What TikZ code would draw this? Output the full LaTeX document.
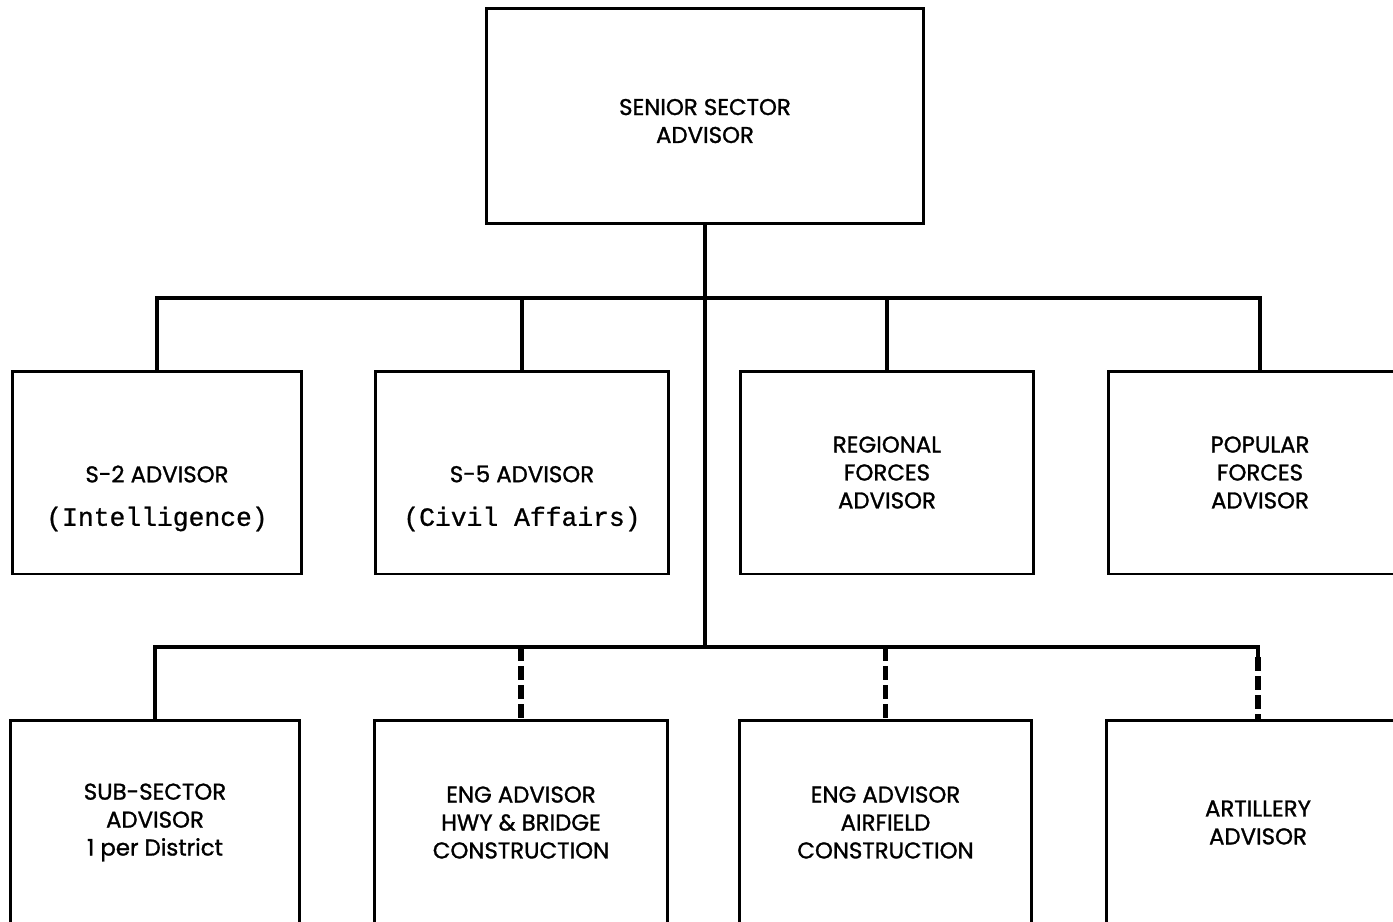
\documentclass[tikz,border=0pt]{standalone}
\usepackage{fontspec}
\setmainfont{Poppins}[FakeBold=1.2]
\setmonofont{Liberation Mono}[FakeBold=0.8]
\usetikzlibrary{positioning}
\begin{document}
\begin{tikzpicture}[x=0.02cm, y=-0.02cm,
  post/.style={draw, line width=1.7pt, minimum width=5.85cm, minimum height=4.06cm,
    inner sep=0pt, font=\fontsize{13}{15.9}\selectfont, align=center},
  lbl/.style={font=\fontsize{13}{15.9}\selectfont, align=center, inner sep=0pt},
  mono/.style={font=\ttfamily\fontsize{15}{17}\selectfont, inner sep=0pt},
  link/.style={line width=2.8pt},
  dlink/.style={line width=3.2pt, dash pattern=on 0.28cm off 0.1cm}]
\useasboundingbox (0,0) rectangle (1393,921);
\clip (0,0) rectangle (1393,921);
% Top box
\node[post, minimum width=8.76cm, minimum height=4.32cm] (ssa) at (705,116) {};
\node[lbl] (ssat) at (705,121) {SENIOR SECTOR\\ADVISOR};
% Staff row
\node[post, minimum width=5.8cm] (s2) at (157,472.5) {};
\node[lbl] (s2t) at (157,474) {S-2 ADVISOR};
\node[mono] (s2m) at (157,519) {(Intelligence)};
\node[post] (s5) at (522,472.5) {};
\node[lbl] (s5t) at (522,474) {S-5 ADVISOR};
\node[mono] (s5m) at (522,519) {(Civil Affairs)};
\node[post] (rf) at (887,472.5) {REGIONAL\\FORCES\\ADVISOR};
\node[post, minimum width=6.08cm] (pf) at (1260,472.5) {POPULAR\\FORCES\\ADVISOR};
% Field row
\node[post, minimum height=4.1cm, minimum width=5.8cm] (sub) at (155,822.5) {SUB-SECTOR\\ADVISOR\\1 per District};
\node[post, minimum height=4.1cm] (eh) at (521,822.5) {ENG ADVISOR\\HWY \& BRIDGE\\CONSTRUCTION};
\node[post, minimum height=4.1cm] (ea) at (885.5,822.5) {ENG ADVISOR\\AIRFIELD\\CONSTRUCTION};
\node[post, minimum height=4.1cm, minimum width=6.08cm] (art) at (1258,822.5) {ARTILLERY\\ADVISOR};
% Lines
\coordinate (bus1) at (705,298);
\coordinate (bus2) at (705,647);
\draw[link] (ssa.south) -- (bus2);
\draw[link] (s2.north) |- (bus1) -| (pf.north);
\draw[link] (s5.north) -- (s5.north |- bus1);
\draw[link] (rf.north) -- (rf.north |- bus1);
\draw[link] (sub.north) |- (bus2) -- (bus2 -| art.north) -- ++(0,10);
\draw[dlink] (bus2 -| eh.north) -- (eh.north);
\draw[dlink] (bus2 -| ea.north) -- (ea.north);
\draw[dlink] ([yshift=-0.2cm]bus2 -| art.north) -- (art.north);
\end{tikzpicture}
\end{document}
